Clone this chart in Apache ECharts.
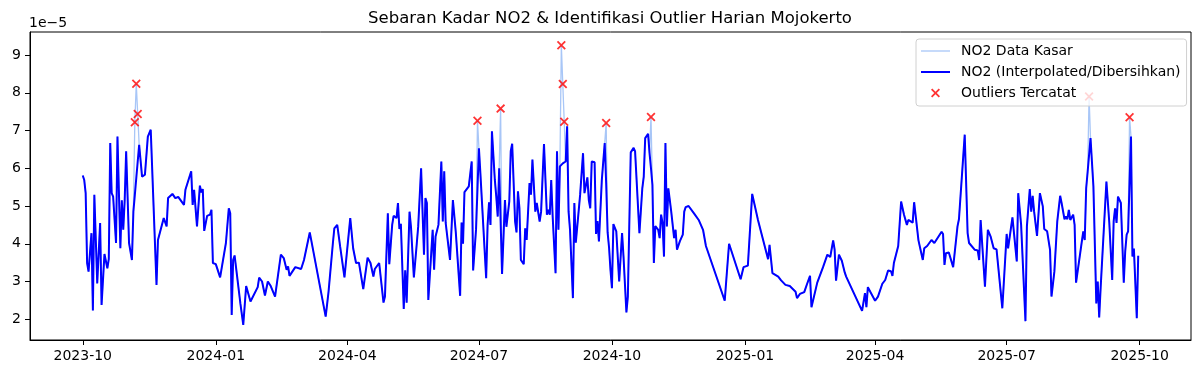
<!DOCTYPE html>
<html>
<head>
<meta charset="utf-8">
<script src="https://cdn.jsdelivr.net/npm/echarts@6/dist/echarts.min.js"></script>
<style>
  html, body { margin: 0; padding: 0; background: #fff; }
  #chart { width: 1201px; height: 374px; }
</style>
</head>
<body>
<div id="chart"></div>
<script>
// days counted from 2023-10-01, values in units of 1e-5
const days = [
  0, 1, 2, 3, 4, 5, 6, 7, 8, 10, 12, 13, 14, 15, 17, 18, 19, 20, 21, 23, 24, 26, 27, 28, 29, 30, 32, 34, 35, 36, 37, 38, 39,
  41, 43, 45, 47, 48, 51, 52, 56, 58, 59, 62, 64, 66, 70, 71, 75, 76, 77, 79, 81, 82, 83, 84, 86, 88, 89, 90, 92, 95, 99,
  101, 102, 103, 104, 105, 109, 111, 112, 113, 116, 117, 121, 122, 124, 126, 128, 130, 131, 133, 134, 137, 139, 141, 142,
  143, 147, 148, 151, 153, 157, 168, 170, 173, 174, 176, 178, 181, 185, 187, 188, 189, 191, 194, 197, 199, 200, 201, 202,
  205, 208, 209, 211, 212, 214, 215, 217, 218, 219, 220, 222, 223, 224, 226, 227, 229, 231, 232, 234, 236, 237, 238, 239,
  242, 243, 244, 246, 248, 249, 250, 251, 254, 256, 258, 261, 262, 263, 264, 267, 268, 269, 270, 271, 272, 273, 274, 275,
  279, 280, 281, 282, 283, 285, 286, 287, 288, 289, 290, 292, 293, 295, 296, 297, 299, 300, 301, 302, 303, 305, 306, 307,
  309, 310, 311, 313, 314, 316, 317, 319, 321, 322, 323, 324, 325, 327, 328, 329, 330, 331, 332, 333, 334, 335, 336, 337,
  339, 340, 341, 342, 344, 346, 347, 349, 350, 351, 352, 354, 355, 356, 357, 359, 361, 362, 363, 364, 365, 366, 367, 369,
  371, 373, 374, 376, 377, 379, 381, 382, 385, 387, 388, 389, 391, 392, 393, 394, 395, 396, 398, 399, 400, 401, 402, 403,
  404, 405, 406, 407, 409, 410, 411, 413, 415, 416, 417, 419, 423, 426, 429, 431, 444, 447, 455, 457, 460, 463, 467, 474,
  475, 477, 481, 483, 486, 489, 493, 494, 496, 499, 501, 503, 504, 508, 512, 515, 517, 519, 520, 521, 523, 525, 527, 528,
  539, 541, 542, 543, 548, 550, 553, 555, 557, 559, 560, 561, 564, 565, 566, 568, 570, 571, 574, 575, 576, 578, 579, 581,
  582, 584, 587, 589, 594, 595, 596, 597, 599, 602, 605, 606, 610, 612, 613, 617, 619, 620, 621, 624, 626, 628, 630, 632,
  636, 639, 640, 643, 646, 647, 649, 652, 653, 654, 655, 656, 657, 658, 660, 662, 664, 665, 667, 669, 670, 672, 674, 675,
  676, 677, 679, 680, 681, 682, 683, 684, 685, 686, 687, 688, 691, 692, 693, 694, 695, 696, 697, 699, 701, 702, 703, 704,
  705, 708, 710, 712, 713, 714, 715, 716, 717, 718, 720, 721, 722, 723, 724, 725, 726, 727, 728, 729, 730
]
const no2Clean = [
  5.81, 5.69, 5.34, 3.49, 3.26, 3.24, 4.28, 2.23, 5.30, 2.95, 4.55, 2.38, 2.42, 3.73, 3.35, 3.60, 6.67, 5.34, 5.25, 4.02, 6.84, 3.88, 5.15, 4.37, 5.16, 6.45, 4.02, 3.57, 4.85, 5.29, 5.74, 6.18, 6.62,
  5.78, 5.83, 6.84, 7.02, 7.02, 2.91, 4.10, 4.68, 4.46, 5.21, 5.32, 5.21, 5.24, 5.03, 5.43, 5.92, 5.03, 5.43, 4.46, 5.54, 5.36, 5.45, 4.34, 4.74, 4.77, 4.90, 3.49, 3.46, 3.11, 4.02,
  4.94, 4.81, 2.11, 3.57, 3.69, 2.42, 1.85, 1.83, 2.88, 2.47, 2.49, 2.85, 3.10, 3.00, 2.63, 3.00, 2.88, 2.85, 2.60, 2.58, 3.71, 3.62, 3.31, 3.40,
  3.15, 3.38, 3.33, 3.33, 3.57, 4.30, 2.07, 2.73, 4.02, 4.41, 4.50, 3.93, 3.11, 4.68, 3.88, 3.85, 3.49, 3.50, 2.80, 3.63, 3.49, 3.45, 3.13, 3.33,
  3.49, 2.44, 2.60, 4.81, 3.46, 4.50, 4.74, 4.68, 5.08, 4.39, 4.53, 2.27, 3.30, 2.44, 4.85, 4.45, 3.11, 4.00, 4.46, 6.00, 3.71, 5.21, 5.08, 2.51,
  4.37, 3.31, 4.19, 4.50, 6.18, 4.59, 5.92, 4.55, 3.57, 5.16, 4.30, 2.62, 4.56, 4.00, 5.37, 5.52, 5.55, 6.18, 3.29, 3.30, 4.38, 5.45, 6.53, 5.87,
  3.09, 4.50, 5.10, 4.50, 6.98, 5.69, 5.25, 4.72, 6.00, 4.60, 3.20, 5.16, 4.45, 5.12, 6.45, 6.65, 4.59, 4.30, 5.39, 4.95, 3.57, 3.46, 4.41, 4.10,
  5.61, 5.30, 6.23, 4.85, 5.08, 4.59, 4.85, 6.64, 4.77, 4.90, 4.77, 5.69, 4.72, 3.22, 6.45, 4.37, 6.05, 6.09, 6.13, 6.16, 6.18, 7.11, 4.85, 4.37,
  2.56, 5.08, 4.03, 4.02, 5.30, 6.40, 5.34, 5.76, 5.16, 4.94, 6.18, 6.16, 4.26, 4.60, 4.06, 5.69, 6.67, 5.60, 4.30, 3.90, 3.30, 2.82, 4.52, 4.33,
  3.00, 4.28, 3.66, 2.18, 2.60, 6.42, 6.54, 6.45, 4.28, 5.47, 5.78, 6.80, 6.91, 6.40, 6.00, 5.56, 3.49, 4.47, 4.37, 4.15, 4.77, 4.55, 3.66, 6.67,
  4.46, 5.47, 5.16, 4.85, 4.15, 4.37, 3.84, 4.07, 4.24, 4.85, 4.97, 5.00, 4.79, 4.63, 4.37, 3.94, 2.49, 4.00, 3.06, 3.38, 3.42, 5.32, 4.63, 3.59,
  3.97, 3.22, 3.13, 3.03, 2.91, 2.88, 2.73, 2.56, 2.67, 2.72, 2.94, 3.15, 2.32, 2.97, 3.38, 3.71, 3.65, 4.09, 3.85, 3.02, 3.71, 3.55, 3.24, 3.13,
  2.22, 2.69, 2.32, 2.85, 2.49, 2.60, 2.94, 3.04, 3.29, 3.27, 3.15, 3.49, 3.94, 3.97, 5.12, 4.77, 4.50, 4.63, 4.56, 5.10, 5.12, 4.09, 4.07, 3.57,
  3.88, 3.94, 4.10, 4.02, 4.32, 4.26, 3.44, 3.75, 3.77, 3.38, 4.46, 4.65, 6.89, 4.28, 4.02, 3.84, 3.82, 3.57, 4.63, 2.86, 4.37, 4.18, 3.88, 3.85,
  2.29, 4.26, 3.88, 4.70, 3.53, 5.34, 4.50, 1.95, 4.46, 4.47, 5.45, 4.85, 5.27, 4.85, 4.21, 5.34, 4.99, 4.39, 4.33, 3.84, 2.60, 3.26, 4.59, 4.57,
  5.27, 5.08, 4.65, 4.72, 4.65, 4.90, 4.63, 4.68, 4.77, 4.50, 2.97, 3.00, 4.06, 4.33, 4.10, 5.47, 5.90, 6.35, 6.80, 5.52, 2.42, 3.00, 2.05, 2.83,
  2.87, 5.65, 4.55, 3.04, 4.59, 4.94, 4.55, 5.25, 5.27, 5.08, 2.97, 3.80, 4.24, 4.33, 5.60, 6.84, 3.66, 3.87, 3.84, 2.03, 3.68
]
const outlierDays = [36, 37, 38, 273, 289, 331, 332, 333, 362, 393, 696, 724]
const outlierVals = [7.22, 8.24, 7.44, 7.26, 7.58, 9.26, 8.23, 7.23, 7.20, 7.36, 7.90, 7.35]
const xTickLabels = ['2023-10', '2024-01', '2024-04', '2024-07', '2024-10', '2025-01', '2025-04', '2025-07', '2025-10']
const yTicks = [2, 3, 4, 5, 6, 7, 8, 9]

const DAY = 86400000
const t0 = Date.UTC(2023, 9, 1)
const toTime = d => t0 + d * DAY

const cleanData = days.map((d, i) => [toTime(d), no2Clean[i]])
const rawData = days.map((d, i) => {
  const k = outlierDays.indexOf(d)
  return [toTime(d), k >= 0 ? outlierVals[k] : no2Clean[i]]
})
const outlierData = outlierDays.map((d, i) => [toTime(d), outlierVals[i]])
const xTicks = xTickLabels.map(s => {
  const [y, m] = s.split('-').map(Number)
  return Date.UTC(y, m - 1, 1)
})

const FONT = 'DejaVu Sans'
const xMark = 'path://M0,1.4L1.4,0L5,3.6L8.6,0L10,1.4L6.4,5L10,8.6L8.6,10L5,6.4L1.4,10L0,8.6L3.6,5Z'

const chart = echarts.init(document.getElementById('chart'))
chart.setOption({
  animation: false,
  textStyle: { fontFamily: FONT },
  grid: {
    left: 30, right: 10, top: 32, bottom: 34,
    show: true, borderColor: '#000', borderWidth: 1
  },
  graphic: [
    {
      type: 'text', x: 610, y: 10,
      style: { text: 'Sebaran Kadar NO2 & Identifikasi Outlier Harian Mojokerto', fill: '#000', font: '16.5px "DejaVu Sans"', textAlign: 'center' }
    },
    {
      type: 'text', x: 29, y: 16,
      style: { text: '1e\u22125', fill: '#000', font: '14px "DejaVu Sans"' }
    }
  ],
  legend: {
    orient: 'vertical',
    left: 916, top: 39,
    padding: [5, 6, 6, 5],
    itemWidth: 29, itemHeight: 9, itemGap: 7,
    backgroundColor: 'rgba(255,255,255,0.8)',
    borderColor: '#d0d0d0', borderWidth: 1, borderRadius: 3,
    textStyle: { fontSize: 14, color: '#000', fontFamily: FONT, padding: [0, 0, 0, 6] },
    data: [
      { name: 'NO2 Data Kasar', icon: 'path://M0,0H29V1.3H0Z' },
      { name: 'NO2 (Interpolated/Dibersihkan)', icon: 'path://M0,0H29V2H0Z' },
      { name: 'Outliers Tercatat', icon: xMark }
    ]
  },
  xAxis: {
    type: 'value',
    min: toTime(-36.5), max: toTime(766.5),
    axisLine: { lineStyle: { color: '#000', width: 1 } },
    axisTick: { customValues: xTicks, length: 5, lineStyle: { color: '#000' } },
    axisLabel: {
      customValues: xTicks, margin: 9, fontSize: 14, color: '#000', fontFamily: FONT,
      formatter: v => xTickLabels[xTicks.indexOf(v)]
    },
    splitLine: { show: false }
  },
  yAxis: {
    type: 'value',
    min: 1.45, max: 9.61,
    axisLine: { show: true, lineStyle: { color: '#000', width: 1 } },
    axisTick: { show: true, customValues: yTicks, length: 5, lineStyle: { color: '#000' } },
    axisLabel: { customValues: yTicks, margin: 9, fontSize: 14, color: '#000', fontFamily: FONT },
    splitLine: { show: false }
  },
  series: [
    {
      name: 'NO2 Data Kasar', type: 'line', data: rawData,
      symbol: 'none', color: '#a8c6f7',
      lineStyle: { width: 1.3, color: '#a8c6f7' }, z: 1
    },
    {
      name: 'NO2 (Interpolated/Dibersihkan)', type: 'line', data: cleanData,
      symbol: 'none', color: '#0000ff',
      lineStyle: { width: 2, color: '#0000ff' }, z: 2
    },
    {
      name: 'Outliers Tercatat', type: 'scatter', data: outlierData,
      symbol: xMark, symbolSize: 9,
      itemStyle: { color: '#ff0000' }, z: 3
    }
  ]
})
</script>
</body>
</html>
